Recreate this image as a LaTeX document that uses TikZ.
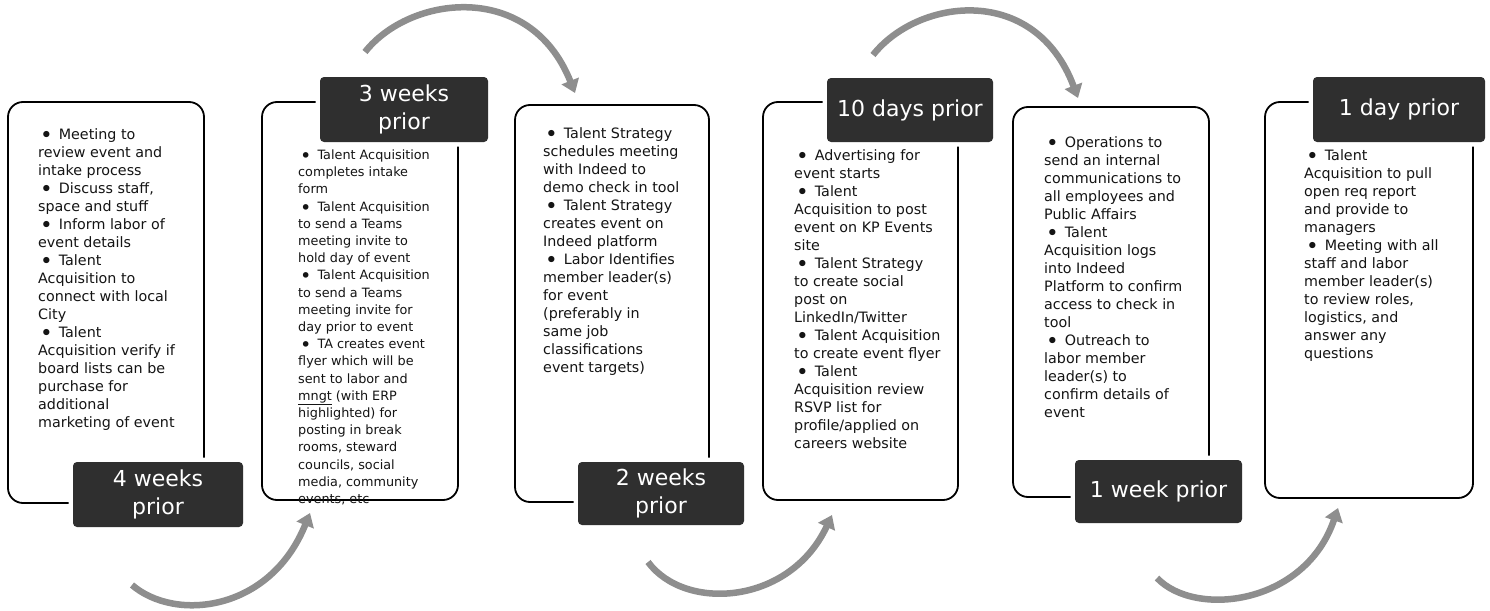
\documentclass[tikz,border=0pt]{standalone}
\usepackage{fontspec}
\setmainfont{DejaVu Sans}
\usetikzlibrary{arrows.meta}
\definecolor{lbl}{HTML}{2F2F2F}
\definecolor{arr}{HTML}{8E8E8E}
\definecolor{txt}{HTML}{141414}
\newcommand\bl{\hspace*{2pt}\raisebox{-3pt}{\scalebox{1.5}{\textbullet}}\hspace{6pt}}
\begin{document}
\begin{tikzpicture}[x=1pt,y=-1pt,
 card/.style={draw=black, line width=1.8pt, rounded corners=15pt, fill=white, inner sep=0pt},
 lab/.style={fill=lbl, text=white, rounded corners=4pt, inner sep=0pt, align=center,
   font=\fontsize{22}{28}\selectfont, preaction={draw=white, line width=9pt}},
 body/.style={anchor=north west, inner sep=0pt, align=left, text=txt, font=\fontsize{14.3}{18}\selectfont},
 small/.style={font=\fontsize{12.8}{17.2}\selectfont},
 flow/.style={draw=arr, line width=6.5pt, -{Triangle[length=13pt,width=18pt]}}]
\useasboundingbox (0,0) rectangle (1490,610);
% cards
\node[card, minimum width=196pt, minimum height=401pt] (c1) at (106,302.5) {};
\node[card, minimum width=196pt, minimum height=398pt] (c2) at (360,301) {};
\node[card, minimum width=194pt, minimum height=397pt] (c3) at (612,303.5) {};
\node[card, minimum width=195pt, minimum height=398pt] (c4) at (860.5,301) {};
\node[card, minimum width=196pt, minimum height=390pt] (c5) at (1111,302) {};
\node[card, minimum width=208pt, minimum height=396pt] (c6) at (1369,300) {};
% texts
\node[body] (t1) at (38,128) {\bl Meeting to\\review event and\\intake process\\\bl Discuss staff,\\space and stuff\\\bl Inform labor of\\event details\\\bl Talent\\Acquisition to\\connect with local\\City\\\bl Talent\\Acquisition verify if\\board lists can be\\purchase for\\additional\\marketing of event};
\node[body, small] (t2) at (298,149.5) {\bl Talent Acquisition\\completes intake\\form\\\bl Talent Acquisition\\to send a Teams\\meeting invite to\\hold day of event\\\bl Talent Acquisition\\to send a Teams\\meeting invite for\\day prior to event\\\bl TA creates event\\flyer which will be\\sent to labor and\\\underline{mngt} (with ERP\\highlighted) for\\posting in break\\rooms, steward\\councils, social\\media, community\\events, etc};
\node[body] (t3) at (543,127) {\bl Talent Strategy\\schedules meeting\\with Indeed to\\demo check in tool\\\bl Talent Strategy\\creates event on\\Indeed platform\\\bl Labor Identifies\\member leader(s)\\for event\\(preferably in\\same job\\classifications\\event targets)};
\node[body] (t4) at (794,149.5) {\bl Advertising for\\event starts\\\bl Talent\\Acquisition to post\\event on KP Events\\site\\\bl Talent Strategy\\to create social\\post on\\LinkedIn/Twitter\\\bl Talent Acquisition\\to create event flyer\\\bl Talent\\Acquisition review\\RSVP list for\\profile/applied on\\careers website};
\node[body] (t5) at (1044,136) {\bl Operations to\\send an internal\\communications to\\all employees and\\Public Affairs\\\bl Talent\\Acquisition logs\\into Indeed\\Platform to confirm\\access to check in\\tool\\\bl Outreach to\\labor member\\leader(s) to\\confirm details of\\event};
\node[body] (t6) at (1304,149.5) {\bl Talent\\Acquisition to pull\\open req report\\and provide to\\managers\\\bl Meeting with all\\staff and labor\\member leader(s)\\to review roles,\\logistics, and\\answer any\\questions};
% labels
\node[lab, minimum width=170pt, minimum height=65pt] (l1) at (158,494.5) {4 weeks\\prior};
\node[lab, minimum width=168pt, minimum height=65pt] (l2) at (404,109.5) {3 weeks\\prior};
\node[lab, minimum width=166pt, minimum height=63pt] (l3) at (661,493.5) {2 weeks\\prior};
\node[lab, minimum width=166pt, minimum height=64pt] (l4) at (910,110) {10 days prior};
\node[lab, minimum width=167pt, minimum height=63pt] (l5) at (1158.5,491.5) {1 week prior};
\node[lab, minimum width=172pt, minimum height=65pt] (l6) at (1399,109.5) {1 day prior};
% arrows
\coordinate (a1s) at (132,585); \coordinate (a1e) at (310,513);
\coordinate (a2s) at (365,52);  \coordinate (a2e) at (575,93);
\coordinate (a3s) at (648,562); \coordinate (a3e) at (832,515);
\coordinate (a4s) at (873,55);  \coordinate (a4e) at (1078,98);
\coordinate (a5s) at (1157,578); \coordinate (a5e) at (1338,508);
\draw[flow] (a1s) .. controls (175,622) and (270,612) .. (a1e);
\draw[flow] (a2s) .. controls (410,-5) and (530,-20) .. (a2e);
\draw[flow] (a3s) .. controls (685,612) and (790,605) .. (a3e);
\draw[flow] (a4s) .. controls (918,-2) and (1035,-17) .. (a4e);
\draw[flow] (a5s) .. controls (1195,618) and (1305,605) .. (a5e);
\end{tikzpicture}
\end{document}
